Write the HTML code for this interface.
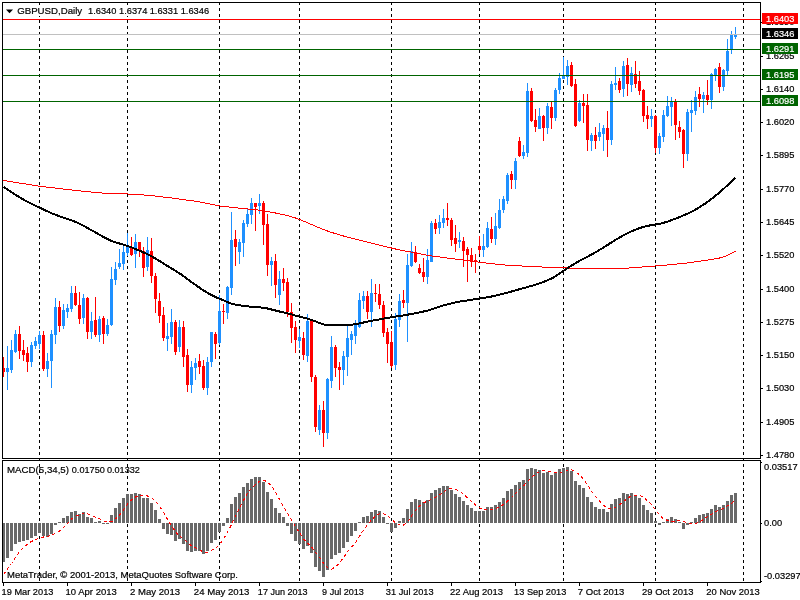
<!DOCTYPE html>
<html><head><meta charset="utf-8"><title>GBPUSD,Daily</title>
<style>
html,body{margin:0;padding:0;background:#fff;}
svg{display:block}
text{font-family:"Liberation Sans",sans-serif;font-size:9.6px;fill:#000;stroke:#000;stroke-width:0.2px}
.w{fill:#fff}
</style></head><body>
<svg width="800" height="600" viewBox="0 0 800 600">
<rect width="800" height="600" fill="#fff"/>
<g shape-rendering="crispEdges" fill="#000">
<line x1="39.5" y1="2" x2="39.5" y2="583" stroke="#000" stroke-width="1" stroke-dasharray="3,3"/>
<line x1="127.5" y1="2" x2="127.5" y2="583" stroke="#000" stroke-width="1" stroke-dasharray="3,3"/>
<line x1="219.5" y1="2" x2="219.5" y2="583" stroke="#000" stroke-width="1" stroke-dasharray="3,3"/>
<line x1="299.5" y1="2" x2="299.5" y2="583" stroke="#000" stroke-width="1" stroke-dasharray="3,3"/>
<line x1="391.5" y1="2" x2="391.5" y2="583" stroke="#000" stroke-width="1" stroke-dasharray="3,3"/>
<line x1="479.5" y1="2" x2="479.5" y2="583" stroke="#000" stroke-width="1" stroke-dasharray="3,3"/>
<line x1="563.5" y1="2" x2="563.5" y2="583" stroke="#000" stroke-width="1" stroke-dasharray="3,3"/>
<line x1="655.5" y1="2" x2="655.5" y2="583" stroke="#000" stroke-width="1" stroke-dasharray="3,3"/>
<line x1="743.5" y1="2" x2="743.5" y2="583" stroke="#000" stroke-width="1" stroke-dasharray="3,3"/>
</g>
<g shape-rendering="crispEdges">
<rect x="3" y="357" width="1" height="20" fill="#ff0000"/><rect x="3" y="368" width="2" height="4" fill="#ff0000"/>
<rect x="7" y="346" width="1" height="44" fill="#1e90ff"/><rect x="6" y="368" width="3" height="4" fill="#1e90ff"/>
<rect x="11" y="340" width="1" height="33" fill="#1e90ff"/><rect x="10" y="350" width="3" height="20" fill="#1e90ff"/>
<rect x="15" y="330" width="1" height="23" fill="#1e90ff"/><rect x="14" y="334" width="3" height="18" fill="#1e90ff"/>
<rect x="19" y="326" width="1" height="33" fill="#ff0000"/><rect x="18" y="334" width="3" height="17" fill="#ff0000"/>
<rect x="23" y="340" width="1" height="21" fill="#ff0000"/><rect x="22" y="350" width="3" height="5" fill="#ff0000"/>
<rect x="27" y="347" width="1" height="25" fill="#ff0000"/><rect x="26" y="353" width="3" height="9" fill="#ff0000"/>
<rect x="31" y="342" width="1" height="25" fill="#1e90ff"/><rect x="30" y="345" width="3" height="17" fill="#1e90ff"/>
<rect x="35" y="337" width="1" height="12" fill="#1e90ff"/><rect x="34" y="341" width="3" height="5" fill="#1e90ff"/>
<rect x="39" y="331" width="1" height="18" fill="#1e90ff"/><rect x="38" y="335" width="3" height="9" fill="#1e90ff"/>
<rect x="43" y="331" width="1" height="40" fill="#ff0000"/><rect x="42" y="335" width="3" height="34" fill="#ff0000"/>
<rect x="47" y="353" width="1" height="24" fill="#1e90ff"/><rect x="46" y="361" width="3" height="8" fill="#1e90ff"/>
<rect x="51" y="330" width="1" height="58" fill="#1e90ff"/><rect x="50" y="334" width="3" height="27" fill="#1e90ff"/>
<rect x="55" y="298" width="1" height="46" fill="#1e90ff"/><rect x="54" y="307" width="3" height="28" fill="#1e90ff"/>
<rect x="59" y="301" width="1" height="31" fill="#ff0000"/><rect x="58" y="307" width="3" height="19" fill="#ff0000"/>
<rect x="63" y="304" width="1" height="25" fill="#1e90ff"/><rect x="62" y="310" width="3" height="16" fill="#1e90ff"/>
<rect x="67" y="304" width="1" height="14" fill="#1e90ff"/><rect x="66" y="308" width="3" height="4" fill="#1e90ff"/>
<rect x="71" y="286" width="1" height="26" fill="#1e90ff"/><rect x="70" y="293" width="3" height="16" fill="#1e90ff"/>
<rect x="75" y="286" width="1" height="20" fill="#ff0000"/><rect x="74" y="293" width="3" height="12" fill="#ff0000"/>
<rect x="79" y="292" width="1" height="32" fill="#ff0000"/><rect x="78" y="305" width="3" height="14" fill="#ff0000"/>
<rect x="83" y="294" width="1" height="30" fill="#1e90ff"/><rect x="82" y="298" width="3" height="20" fill="#1e90ff"/>
<rect x="87" y="297" width="1" height="42" fill="#ff0000"/><rect x="86" y="298" width="3" height="34" fill="#ff0000"/>
<rect x="91" y="312" width="1" height="27" fill="#1e90ff"/><rect x="90" y="321" width="3" height="11" fill="#1e90ff"/>
<rect x="95" y="297" width="1" height="40" fill="#ff0000"/><rect x="94" y="320" width="3" height="15" fill="#ff0000"/>
<rect x="99" y="316" width="1" height="26" fill="#1e90ff"/><rect x="98" y="319" width="3" height="16" fill="#1e90ff"/>
<rect x="103" y="316" width="1" height="28" fill="#ff0000"/><rect x="102" y="318" width="3" height="16" fill="#ff0000"/>
<rect x="107" y="319" width="1" height="17" fill="#1e90ff"/><rect x="106" y="325" width="3" height="9" fill="#1e90ff"/>
<rect x="111" y="267" width="1" height="59" fill="#1e90ff"/><rect x="110" y="279" width="3" height="46" fill="#1e90ff"/>
<rect x="115" y="262" width="1" height="23" fill="#1e90ff"/><rect x="114" y="269" width="3" height="11" fill="#1e90ff"/>
<rect x="119" y="249" width="1" height="20" fill="#1e90ff"/><rect x="118" y="263" width="3" height="4" fill="#1e90ff"/>
<rect x="123" y="245" width="1" height="25" fill="#1e90ff"/><rect x="122" y="252" width="3" height="12" fill="#1e90ff"/>
<rect x="127" y="233" width="1" height="23" fill="#1e90ff"/><rect x="126" y="247" width="3" height="6" fill="#1e90ff"/>
<rect x="131" y="237" width="1" height="19" fill="#ff0000"/><rect x="130" y="247" width="3" height="8" fill="#ff0000"/>
<rect x="135" y="234" width="1" height="34" fill="#1e90ff"/><rect x="134" y="242" width="3" height="12" fill="#1e90ff"/>
<rect x="139" y="242" width="1" height="15" fill="#ff0000"/><rect x="138" y="242" width="3" height="9" fill="#ff0000"/>
<rect x="143" y="247" width="1" height="30" fill="#ff0000"/><rect x="142" y="251" width="3" height="17" fill="#ff0000"/>
<rect x="147" y="237" width="1" height="34" fill="#1e90ff"/><rect x="146" y="250" width="3" height="17" fill="#1e90ff"/>
<rect x="151" y="238" width="1" height="45" fill="#ff0000"/><rect x="150" y="251" width="3" height="25" fill="#ff0000"/>
<rect x="155" y="273" width="1" height="40" fill="#ff0000"/><rect x="154" y="276" width="3" height="23" fill="#ff0000"/>
<rect x="159" y="293" width="1" height="30" fill="#ff0000"/><rect x="158" y="301" width="3" height="15" fill="#ff0000"/>
<rect x="163" y="307" width="1" height="34" fill="#ff0000"/><rect x="162" y="315" width="3" height="23" fill="#ff0000"/>
<rect x="167" y="323" width="1" height="28" fill="#1e90ff"/><rect x="166" y="336" width="3" height="3" fill="#1e90ff"/>
<rect x="171" y="309" width="1" height="35" fill="#1e90ff"/><rect x="170" y="322" width="3" height="15" fill="#1e90ff"/>
<rect x="175" y="320" width="1" height="35" fill="#ff0000"/><rect x="174" y="322" width="3" height="30" fill="#ff0000"/>
<rect x="179" y="320" width="1" height="32" fill="#1e90ff"/><rect x="178" y="327" width="3" height="20" fill="#1e90ff"/>
<rect x="183" y="321" width="1" height="46" fill="#ff0000"/><rect x="182" y="327" width="3" height="30" fill="#ff0000"/>
<rect x="187" y="349" width="1" height="43" fill="#ff0000"/><rect x="186" y="355" width="3" height="30" fill="#ff0000"/>
<rect x="191" y="361" width="1" height="32" fill="#1e90ff"/><rect x="190" y="367" width="3" height="18" fill="#1e90ff"/>
<rect x="195" y="358" width="1" height="22" fill="#1e90ff"/><rect x="194" y="363" width="3" height="5" fill="#1e90ff"/>
<rect x="199" y="354" width="1" height="20" fill="#ff0000"/><rect x="198" y="361" width="3" height="6" fill="#ff0000"/>
<rect x="203" y="360" width="1" height="30" fill="#ff0000"/><rect x="202" y="366" width="3" height="22" fill="#ff0000"/>
<rect x="207" y="357" width="1" height="38" fill="#1e90ff"/><rect x="206" y="362" width="3" height="26" fill="#1e90ff"/>
<rect x="211" y="332" width="1" height="35" fill="#1e90ff"/><rect x="210" y="332" width="3" height="30" fill="#1e90ff"/>
<rect x="215" y="332" width="1" height="27" fill="#ff0000"/><rect x="214" y="334" width="3" height="10" fill="#ff0000"/>
<rect x="219" y="295" width="1" height="50" fill="#1e90ff"/><rect x="218" y="311" width="3" height="32" fill="#1e90ff"/>
<rect x="223" y="304" width="1" height="20" fill="#ff0000"/><rect x="222" y="311" width="3" height="1" fill="#ff0000"/>
<rect x="227" y="286" width="1" height="33" fill="#1e90ff"/><rect x="226" y="287" width="3" height="26" fill="#1e90ff"/>
<rect x="231" y="212" width="1" height="83" fill="#1e90ff"/><rect x="230" y="240" width="3" height="48" fill="#1e90ff"/>
<rect x="235" y="230" width="1" height="36" fill="#ff0000"/><rect x="234" y="239" width="3" height="8" fill="#ff0000"/>
<rect x="239" y="239" width="1" height="25" fill="#1e90ff"/><rect x="238" y="242" width="3" height="10" fill="#1e90ff"/>
<rect x="243" y="220" width="1" height="37" fill="#1e90ff"/><rect x="242" y="223" width="3" height="20" fill="#1e90ff"/>
<rect x="247" y="209" width="1" height="18" fill="#1e90ff"/><rect x="246" y="214" width="3" height="10" fill="#1e90ff"/>
<rect x="251" y="198" width="1" height="26" fill="#1e90ff"/><rect x="250" y="203" width="3" height="12" fill="#1e90ff"/>
<rect x="255" y="203" width="1" height="28" fill="#ff0000"/><rect x="254" y="203" width="3" height="4" fill="#ff0000"/>
<rect x="259" y="194" width="1" height="20" fill="#1e90ff"/><rect x="258" y="203" width="3" height="3" fill="#1e90ff"/>
<rect x="263" y="201" width="1" height="44" fill="#ff0000"/><rect x="262" y="203" width="3" height="22" fill="#ff0000"/>
<rect x="267" y="214" width="1" height="62" fill="#ff0000"/><rect x="266" y="224" width="3" height="41" fill="#ff0000"/>
<rect x="271" y="257" width="1" height="29" fill="#1e90ff"/><rect x="270" y="261" width="3" height="4" fill="#1e90ff"/>
<rect x="275" y="254" width="1" height="44" fill="#ff0000"/><rect x="274" y="261" width="3" height="24" fill="#ff0000"/>
<rect x="279" y="271" width="1" height="34" fill="#1e90ff"/><rect x="278" y="279" width="3" height="16" fill="#1e90ff"/>
<rect x="283" y="268" width="1" height="23" fill="#ff0000"/><rect x="282" y="279" width="3" height="4" fill="#ff0000"/>
<rect x="287" y="278" width="1" height="39" fill="#ff0000"/><rect x="286" y="282" width="3" height="30" fill="#ff0000"/>
<rect x="291" y="303" width="1" height="40" fill="#ff0000"/><rect x="290" y="312" width="3" height="16" fill="#ff0000"/>
<rect x="295" y="321" width="1" height="32" fill="#ff0000"/><rect x="294" y="327" width="3" height="13" fill="#ff0000"/>
<rect x="299" y="329" width="1" height="19" fill="#1e90ff"/><rect x="298" y="337" width="3" height="4" fill="#1e90ff"/>
<rect x="303" y="332" width="1" height="28" fill="#ff0000"/><rect x="302" y="338" width="3" height="17" fill="#ff0000"/>
<rect x="307" y="314" width="1" height="48" fill="#1e90ff"/><rect x="306" y="321" width="3" height="35" fill="#1e90ff"/>
<rect x="311" y="320" width="1" height="62" fill="#ff0000"/><rect x="310" y="321" width="3" height="56" fill="#ff0000"/>
<rect x="315" y="375" width="1" height="57" fill="#ff0000"/><rect x="314" y="377" width="3" height="50" fill="#ff0000"/>
<rect x="319" y="405" width="1" height="30" fill="#1e90ff"/><rect x="318" y="410" width="3" height="20" fill="#1e90ff"/>
<rect x="323" y="401" width="1" height="46" fill="#ff0000"/><rect x="322" y="410" width="3" height="23" fill="#ff0000"/>
<rect x="327" y="378" width="1" height="61" fill="#1e90ff"/><rect x="326" y="379" width="3" height="54" fill="#1e90ff"/>
<rect x="331" y="336" width="1" height="52" fill="#1e90ff"/><rect x="330" y="347" width="3" height="34" fill="#1e90ff"/>
<rect x="335" y="345" width="1" height="32" fill="#ff0000"/><rect x="334" y="347" width="3" height="21" fill="#ff0000"/>
<rect x="339" y="362" width="1" height="28" fill="#ff0000"/><rect x="338" y="367" width="3" height="3" fill="#ff0000"/>
<rect x="343" y="351" width="1" height="34" fill="#1e90ff"/><rect x="342" y="356" width="3" height="14" fill="#1e90ff"/>
<rect x="347" y="325" width="1" height="51" fill="#1e90ff"/><rect x="346" y="338" width="3" height="19" fill="#1e90ff"/>
<rect x="351" y="331" width="1" height="24" fill="#1e90ff"/><rect x="350" y="334" width="3" height="6" fill="#1e90ff"/>
<rect x="355" y="320" width="1" height="24" fill="#1e90ff"/><rect x="354" y="323" width="3" height="13" fill="#1e90ff"/>
<rect x="359" y="293" width="1" height="35" fill="#1e90ff"/><rect x="358" y="300" width="3" height="27" fill="#1e90ff"/>
<rect x="363" y="291" width="1" height="18" fill="#1e90ff"/><rect x="362" y="296" width="3" height="5" fill="#1e90ff"/>
<rect x="367" y="291" width="1" height="28" fill="#ff0000"/><rect x="366" y="296" width="3" height="16" fill="#ff0000"/>
<rect x="371" y="279" width="1" height="48" fill="#1e90ff"/><rect x="370" y="293" width="3" height="19" fill="#1e90ff"/>
<rect x="375" y="284" width="1" height="18" fill="#ff0000"/><rect x="374" y="293" width="3" height="1" fill="#ff0000"/>
<rect x="379" y="284" width="1" height="25" fill="#ff0000"/><rect x="378" y="294" width="3" height="11" fill="#ff0000"/>
<rect x="383" y="301" width="1" height="36" fill="#ff0000"/><rect x="382" y="305" width="3" height="28" fill="#ff0000"/>
<rect x="387" y="328" width="1" height="35" fill="#ff0000"/><rect x="386" y="332" width="3" height="12" fill="#ff0000"/>
<rect x="391" y="331" width="1" height="37" fill="#ff0000"/><rect x="390" y="342" width="3" height="24" fill="#ff0000"/>
<rect x="395" y="313" width="1" height="57" fill="#1e90ff"/><rect x="394" y="319" width="3" height="46" fill="#1e90ff"/>
<rect x="399" y="294" width="1" height="33" fill="#1e90ff"/><rect x="398" y="301" width="3" height="19" fill="#1e90ff"/>
<rect x="403" y="290" width="1" height="18" fill="#ff0000"/><rect x="402" y="300" width="3" height="3" fill="#ff0000"/>
<rect x="407" y="254" width="1" height="88" fill="#1e90ff"/><rect x="406" y="265" width="3" height="38" fill="#1e90ff"/>
<rect x="411" y="242" width="1" height="25" fill="#1e90ff"/><rect x="410" y="251" width="3" height="15" fill="#1e90ff"/>
<rect x="415" y="246" width="1" height="17" fill="#ff0000"/><rect x="414" y="252" width="3" height="10" fill="#ff0000"/>
<rect x="419" y="264" width="1" height="10" fill="#ff0000"/><rect x="418" y="268" width="3" height="5" fill="#ff0000"/>
<rect x="423" y="258" width="1" height="24" fill="#ff0000"/><rect x="422" y="272" width="3" height="5" fill="#ff0000"/>
<rect x="427" y="249" width="1" height="35" fill="#1e90ff"/><rect x="426" y="260" width="3" height="17" fill="#1e90ff"/>
<rect x="431" y="221" width="1" height="41" fill="#1e90ff"/><rect x="430" y="223" width="3" height="39" fill="#1e90ff"/>
<rect x="435" y="219" width="1" height="15" fill="#ff0000"/><rect x="434" y="223" width="3" height="6" fill="#ff0000"/>
<rect x="439" y="215" width="1" height="19" fill="#1e90ff"/><rect x="438" y="222" width="3" height="6" fill="#1e90ff"/>
<rect x="443" y="209" width="1" height="19" fill="#1e90ff"/><rect x="442" y="218" width="3" height="5" fill="#1e90ff"/>
<rect x="447" y="203" width="1" height="23" fill="#ff0000"/><rect x="446" y="218" width="3" height="2" fill="#ff0000"/>
<rect x="451" y="218" width="1" height="28" fill="#ff0000"/><rect x="450" y="220" width="3" height="20" fill="#ff0000"/>
<rect x="455" y="225" width="1" height="27" fill="#ff0000"/><rect x="454" y="238" width="3" height="6" fill="#ff0000"/>
<rect x="459" y="232" width="1" height="16" fill="#1e90ff"/><rect x="458" y="240" width="3" height="2" fill="#1e90ff"/>
<rect x="463" y="237" width="1" height="30" fill="#ff0000"/><rect x="462" y="241" width="3" height="10" fill="#ff0000"/>
<rect x="467" y="247" width="1" height="35" fill="#ff0000"/><rect x="466" y="249" width="3" height="6" fill="#ff0000"/>
<rect x="471" y="248" width="1" height="19" fill="#ff0000"/><rect x="470" y="255" width="3" height="7" fill="#ff0000"/>
<rect x="475" y="254" width="1" height="19" fill="#ff0000"/><rect x="474" y="260" width="3" height="2" fill="#ff0000"/>
<rect x="479" y="236" width="1" height="18" fill="#ff0000"/><rect x="478" y="246" width="3" height="4" fill="#ff0000"/>
<rect x="483" y="234" width="1" height="23" fill="#1e90ff"/><rect x="482" y="246" width="3" height="4" fill="#1e90ff"/>
<rect x="487" y="222" width="1" height="26" fill="#1e90ff"/><rect x="486" y="228" width="3" height="19" fill="#1e90ff"/>
<rect x="491" y="217" width="1" height="26" fill="#ff0000"/><rect x="490" y="229" width="3" height="10" fill="#ff0000"/>
<rect x="495" y="213" width="1" height="32" fill="#1e90ff"/><rect x="494" y="226" width="3" height="13" fill="#1e90ff"/>
<rect x="499" y="199" width="1" height="30" fill="#1e90ff"/><rect x="498" y="210" width="3" height="18" fill="#1e90ff"/>
<rect x="503" y="196" width="1" height="17" fill="#1e90ff"/><rect x="502" y="199" width="3" height="11" fill="#1e90ff"/>
<rect x="507" y="173" width="1" height="31" fill="#1e90ff"/><rect x="506" y="175" width="3" height="26" fill="#1e90ff"/>
<rect x="511" y="171" width="1" height="18" fill="#ff0000"/><rect x="510" y="174" width="3" height="6" fill="#ff0000"/>
<rect x="515" y="158" width="1" height="31" fill="#1e90ff"/><rect x="514" y="161" width="3" height="19" fill="#1e90ff"/>
<rect x="519" y="137" width="1" height="20" fill="#ff0000"/><rect x="518" y="141" width="3" height="15" fill="#ff0000"/>
<rect x="523" y="145" width="1" height="14" fill="#1e90ff"/><rect x="522" y="152" width="3" height="4" fill="#1e90ff"/>
<rect x="527" y="83" width="1" height="74" fill="#1e90ff"/><rect x="526" y="91" width="3" height="62" fill="#1e90ff"/>
<rect x="531" y="88" width="1" height="34" fill="#ff0000"/><rect x="530" y="91" width="3" height="30" fill="#ff0000"/>
<rect x="535" y="109" width="1" height="23" fill="#ff0000"/><rect x="534" y="120" width="3" height="7" fill="#ff0000"/>
<rect x="539" y="108" width="1" height="21" fill="#1e90ff"/><rect x="538" y="116" width="3" height="13" fill="#1e90ff"/>
<rect x="543" y="115" width="1" height="26" fill="#ff0000"/><rect x="542" y="116" width="3" height="12" fill="#ff0000"/>
<rect x="547" y="103" width="1" height="31" fill="#1e90ff"/><rect x="546" y="106" width="3" height="22" fill="#1e90ff"/>
<rect x="551" y="102" width="1" height="27" fill="#ff0000"/><rect x="550" y="107" width="3" height="11" fill="#ff0000"/>
<rect x="555" y="88" width="1" height="33" fill="#1e90ff"/><rect x="554" y="90" width="3" height="28" fill="#1e90ff"/>
<rect x="559" y="73" width="1" height="21" fill="#1e90ff"/><rect x="558" y="78" width="3" height="12" fill="#1e90ff"/>
<rect x="563" y="57" width="1" height="22" fill="#1e90ff"/><rect x="562" y="75" width="3" height="4" fill="#1e90ff"/>
<rect x="567" y="60" width="1" height="25" fill="#1e90ff"/><rect x="566" y="66" width="3" height="11" fill="#1e90ff"/>
<rect x="571" y="62" width="1" height="25" fill="#ff0000"/><rect x="570" y="65" width="3" height="21" fill="#ff0000"/>
<rect x="575" y="79" width="1" height="48" fill="#ff0000"/><rect x="574" y="84" width="3" height="42" fill="#ff0000"/>
<rect x="579" y="100" width="1" height="22" fill="#1e90ff"/><rect x="578" y="103" width="3" height="18" fill="#1e90ff"/>
<rect x="583" y="94" width="1" height="29" fill="#ff0000"/><rect x="582" y="103" width="3" height="3" fill="#ff0000"/>
<rect x="587" y="94" width="1" height="57" fill="#ff0000"/><rect x="586" y="105" width="3" height="35" fill="#ff0000"/>
<rect x="591" y="133" width="1" height="18" fill="#1e90ff"/><rect x="590" y="135" width="3" height="6" fill="#1e90ff"/>
<rect x="595" y="127" width="1" height="22" fill="#ff0000"/><rect x="594" y="135" width="3" height="6" fill="#ff0000"/>
<rect x="599" y="123" width="1" height="18" fill="#1e90ff"/><rect x="598" y="132" width="3" height="5" fill="#1e90ff"/>
<rect x="603" y="125" width="1" height="26" fill="#1e90ff"/><rect x="602" y="128" width="3" height="6" fill="#1e90ff"/>
<rect x="607" y="111" width="1" height="46" fill="#ff0000"/><rect x="606" y="128" width="3" height="12" fill="#ff0000"/>
<rect x="611" y="81" width="1" height="64" fill="#1e90ff"/><rect x="610" y="84" width="3" height="56" fill="#1e90ff"/>
<rect x="615" y="67" width="1" height="23" fill="#1e90ff"/><rect x="614" y="83" width="3" height="2" fill="#1e90ff"/>
<rect x="619" y="78" width="1" height="15" fill="#ff0000"/><rect x="618" y="81" width="3" height="9" fill="#ff0000"/>
<rect x="623" y="61" width="1" height="36" fill="#1e90ff"/><rect x="622" y="66" width="3" height="23" fill="#1e90ff"/>
<rect x="627" y="58" width="1" height="38" fill="#ff0000"/><rect x="626" y="65" width="3" height="19" fill="#ff0000"/>
<rect x="631" y="67" width="1" height="25" fill="#1e90ff"/><rect x="630" y="73" width="3" height="12" fill="#1e90ff"/>
<rect x="635" y="61" width="1" height="27" fill="#ff0000"/><rect x="634" y="74" width="3" height="10" fill="#ff0000"/>
<rect x="639" y="71" width="1" height="24" fill="#ff0000"/><rect x="638" y="81" width="3" height="10" fill="#ff0000"/>
<rect x="643" y="89" width="1" height="33" fill="#ff0000"/><rect x="642" y="90" width="3" height="26" fill="#ff0000"/>
<rect x="647" y="106" width="1" height="23" fill="#ff0000"/><rect x="646" y="115" width="3" height="4" fill="#ff0000"/>
<rect x="651" y="109" width="1" height="18" fill="#1e90ff"/><rect x="650" y="116" width="3" height="3" fill="#1e90ff"/>
<rect x="655" y="115" width="1" height="38" fill="#ff0000"/><rect x="654" y="116" width="3" height="32" fill="#ff0000"/>
<rect x="659" y="133" width="1" height="21" fill="#1e90ff"/><rect x="658" y="136" width="3" height="12" fill="#1e90ff"/>
<rect x="663" y="110" width="1" height="32" fill="#1e90ff"/><rect x="662" y="115" width="3" height="22" fill="#1e90ff"/>
<rect x="667" y="96" width="1" height="21" fill="#1e90ff"/><rect x="666" y="106" width="3" height="10" fill="#1e90ff"/>
<rect x="671" y="97" width="1" height="29" fill="#1e90ff"/><rect x="670" y="102" width="3" height="5" fill="#1e90ff"/>
<rect x="675" y="99" width="1" height="41" fill="#ff0000"/><rect x="674" y="102" width="3" height="23" fill="#ff0000"/>
<rect x="679" y="121" width="1" height="17" fill="#ff0000"/><rect x="678" y="127" width="3" height="5" fill="#ff0000"/>
<rect x="683" y="129" width="1" height="39" fill="#ff0000"/><rect x="682" y="130" width="3" height="24" fill="#ff0000"/>
<rect x="687" y="109" width="1" height="52" fill="#1e90ff"/><rect x="686" y="112" width="3" height="42" fill="#1e90ff"/>
<rect x="691" y="100" width="1" height="32" fill="#1e90ff"/><rect x="690" y="110" width="3" height="3" fill="#1e90ff"/>
<rect x="695" y="91" width="1" height="24" fill="#1e90ff"/><rect x="694" y="97" width="3" height="14" fill="#1e90ff"/>
<rect x="699" y="87" width="1" height="20" fill="#ff0000"/><rect x="698" y="94" width="3" height="5" fill="#ff0000"/>
<rect x="703" y="92" width="1" height="21" fill="#1e90ff"/><rect x="702" y="95" width="3" height="4" fill="#1e90ff"/>
<rect x="707" y="80" width="1" height="25" fill="#ff0000"/><rect x="706" y="95" width="3" height="5" fill="#ff0000"/>
<rect x="711" y="73" width="1" height="36" fill="#1e90ff"/><rect x="710" y="74" width="3" height="26" fill="#1e90ff"/>
<rect x="715" y="68" width="1" height="13" fill="#1e90ff"/><rect x="714" y="69" width="3" height="7" fill="#1e90ff"/>
<rect x="719" y="63" width="1" height="30" fill="#ff0000"/><rect x="718" y="67" width="3" height="20" fill="#ff0000"/>
<rect x="723" y="69" width="1" height="22" fill="#1e90ff"/><rect x="722" y="70" width="3" height="17" fill="#1e90ff"/>
<rect x="727" y="39" width="1" height="36" fill="#1e90ff"/><rect x="726" y="51" width="3" height="20" fill="#1e90ff"/>
<rect x="731" y="31" width="1" height="23" fill="#1e90ff"/><rect x="730" y="35" width="3" height="15" fill="#1e90ff"/>
<rect x="735" y="27" width="1" height="12" fill="#1e90ff"/><rect x="734" y="35" width="3" height="2" fill="#1e90ff"/>
</g>
<g shape-rendering="crispEdges">
<rect x="3" y="34" width="757" height="1" fill="#c0c0c0"/>
</g>
<polyline fill="none" stroke="#ff0000" stroke-width="1" shape-rendering="crispEdges" points="3.5,180.5 7.5,181.1 11.5,181.8 15.5,182.4 19.5,183.1 23.5,183.7 27.5,184.3 31.5,185.0 35.5,185.6 39.5,186.2 43.5,186.7 47.5,187.2 51.5,187.7 55.5,188.1 59.5,188.6 63.5,189.1 67.5,189.6 71.5,190.0 75.5,190.5 79.5,190.9 83.5,191.3 87.5,191.7 91.5,192.1 95.5,192.5 99.5,192.8 103.5,193.1 107.5,193.3 111.5,193.4 115.5,193.6 119.5,193.7 123.5,193.9 127.5,194.0 131.5,194.3 135.5,194.5 139.5,194.8 143.5,195.0 147.5,195.3 151.5,195.7 155.5,196.1 159.5,196.6 163.5,197.1 167.5,197.5 171.5,198.0 175.5,198.5 179.5,199.1 183.5,199.6 187.5,200.2 191.5,200.7 195.5,201.3 199.5,201.9 203.5,202.7 207.5,203.5 211.5,204.3 215.5,205.1 219.5,205.9 223.5,206.4 227.5,206.9 231.5,207.3 235.5,207.8 239.5,208.2 243.5,208.6 247.5,209.0 251.5,209.4 255.5,209.8 259.5,210.2 263.5,210.8 267.5,211.5 271.5,212.2 275.5,213.0 279.5,213.8 283.5,214.7 287.5,215.7 291.5,216.8 295.5,218.0 299.5,219.4 303.5,221.1 307.5,222.8 311.5,224.5 315.5,226.3 319.5,227.9 323.5,229.6 327.5,231.0 331.5,232.4 335.5,233.6 339.5,234.8 343.5,236.0 347.5,237.1 351.5,238.2 355.5,239.2 359.5,240.2 363.5,241.2 367.5,242.2 371.5,243.2 375.5,244.2 379.5,245.2 383.5,246.1 387.5,247.1 391.5,248.0 395.5,249.0 399.5,249.9 403.5,250.7 407.5,251.4 411.5,252.1 415.5,252.9 419.5,253.7 423.5,254.5 427.5,255.2 431.5,255.9 435.5,256.4 439.5,257.0 443.5,257.6 447.5,258.1 451.5,258.6 455.5,259.1 459.5,259.6 463.5,260.1 467.5,260.7 471.5,261.2 475.5,261.7 479.5,262.2 483.5,262.7 487.5,263.2 491.5,263.7 495.5,264.1 499.5,264.6 503.5,264.9 507.5,265.2 511.5,265.4 515.5,265.6 519.5,265.9 523.5,266.1 527.5,266.3 531.5,266.5 535.5,266.8 539.5,266.9 543.5,267.1 547.5,267.3 551.5,267.5 555.5,267.7 559.5,267.8 563.5,267.9 567.5,268.0 571.5,268.0 575.5,268.0 579.5,268.0 583.5,268.1 587.5,268.3 591.5,268.4 595.5,268.5 599.5,268.6 603.5,268.7 607.5,268.7 611.5,268.6 615.5,268.5 619.5,268.4 623.5,268.3 627.5,268.1 631.5,267.9 635.5,267.6 639.5,267.3 643.5,266.9 647.5,266.6 651.5,266.3 655.5,266.0 659.5,265.7 663.5,265.3 667.5,265.0 671.5,264.6 675.5,264.2 679.5,263.8 683.5,263.4 687.5,262.9 691.5,262.4 695.5,261.8 699.5,261.3 703.5,260.7 707.5,260.1 711.5,259.5 715.5,258.8 719.5,258.0 723.5,256.9 727.5,255.3 731.5,253.3 735.5,251.0"/>
<polyline fill="none" stroke="#000" stroke-width="2" stroke-linejoin="round" shape-rendering="crispEdges" points="3.5,186.8 7.5,189.4 11.5,192.1 15.5,194.7 19.5,197.2 23.5,199.6 27.5,201.8 31.5,203.8 35.5,205.7 39.5,207.6 43.5,209.5 47.5,211.4 51.5,213.2 55.5,214.8 59.5,216.3 63.5,217.7 67.5,219.0 71.5,220.3 75.5,221.9 79.5,223.7 83.5,225.8 87.5,228.0 91.5,230.2 95.5,232.5 99.5,234.8 103.5,237.0 107.5,239.1 111.5,240.9 115.5,242.3 119.5,243.5 123.5,244.6 127.5,245.9 131.5,247.4 135.5,249.0 139.5,250.7 143.5,252.5 147.5,254.3 151.5,256.3 155.5,258.5 159.5,261.0 163.5,263.5 167.5,266.0 171.5,268.4 175.5,270.8 179.5,273.3 183.5,276.1 187.5,279.1 191.5,282.1 195.5,284.9 199.5,287.7 203.5,290.4 207.5,292.9 211.5,295.1 215.5,297.0 219.5,298.7 223.5,300.4 227.5,302.1 231.5,303.6 235.5,304.6 239.5,305.3 243.5,305.9 247.5,306.4 251.5,306.8 255.5,307.0 259.5,307.3 263.5,307.8 267.5,308.5 271.5,309.5 275.5,310.5 279.5,311.5 283.5,312.4 287.5,313.4 291.5,314.4 295.5,315.6 299.5,316.7 303.5,317.7 307.5,318.7 311.5,319.9 315.5,321.4 319.5,323.1 323.5,324.4 327.5,324.9 331.5,325.0 335.5,325.0 339.5,325.0 343.5,325.0 347.5,325.0 351.5,324.7 355.5,324.2 359.5,323.4 363.5,322.5 367.5,321.6 371.5,320.8 375.5,320.1 379.5,319.4 383.5,318.6 387.5,317.9 391.5,317.3 395.5,316.6 399.5,316.0 403.5,315.4 407.5,314.7 411.5,314.0 415.5,313.2 419.5,312.4 423.5,311.5 427.5,310.6 431.5,309.4 435.5,308.0 439.5,306.7 443.5,305.4 447.5,304.3 451.5,303.3 455.5,302.4 459.5,301.6 463.5,301.0 467.5,300.4 471.5,299.8 475.5,299.1 479.5,298.5 483.5,297.9 487.5,297.2 491.5,296.5 495.5,295.6 499.5,294.7 503.5,293.6 507.5,292.6 511.5,291.5 515.5,290.4 519.5,289.2 523.5,288.1 527.5,287.0 531.5,285.9 535.5,284.7 539.5,283.4 543.5,281.9 547.5,280.3 551.5,278.5 555.5,276.3 559.5,273.6 563.5,270.8 567.5,268.1 571.5,265.6 575.5,263.2 579.5,260.9 583.5,258.8 587.5,256.7 591.5,254.5 595.5,252.3 599.5,249.9 603.5,247.5 607.5,245.0 611.5,242.4 615.5,239.9 619.5,237.5 623.5,235.3 627.5,233.3 631.5,231.4 635.5,229.7 639.5,228.1 643.5,226.9 647.5,225.9 651.5,225.1 655.5,224.5 659.5,223.8 663.5,222.8 667.5,221.6 671.5,220.1 675.5,218.6 679.5,217.1 683.5,215.4 687.5,213.7 691.5,211.7 695.5,209.6 699.5,207.2 703.5,204.7 707.5,201.9 711.5,199.0 715.5,195.8 719.5,192.5 723.5,188.9 727.5,185.2 731.5,181.4 735.5,177.5"/>
<g shape-rendering="crispEdges">
<rect x="3" y="19" width="757" height="1" fill="#ff0000"/>
<rect x="3" y="49" width="757" height="1" fill="#006400"/>
<rect x="3" y="75" width="757" height="1" fill="#006400"/>
<rect x="3" y="101" width="757" height="1" fill="#006400"/>
<rect x="2.5" y="2.5" width="758" height="456" fill="none" stroke="#000" stroke-width="1"/>
<rect x="2.5" y="460.5" width="758" height="122" fill="none" stroke="#000" stroke-width="1"/>
</g>
<rect x="4" y="5" width="206" height="11" class="w"/>
<path d="M6 9.5h7l-3.5 3.7z" fill="#000"/>
<text x="17.2" y="13.8" textLength="65.0" lengthAdjust="spacingAndGlyphs">GBPUSD,Daily</text>
<text x="88" y="13.8" textLength="28.4" lengthAdjust="spacingAndGlyphs">1.6340</text>
<text x="119" y="13.8" textLength="28.4" lengthAdjust="spacingAndGlyphs">1.6374</text>
<text x="149.7" y="13.8" textLength="28.4" lengthAdjust="spacingAndGlyphs">1.6331</text>
<text x="180.7" y="13.8" textLength="28.4" lengthAdjust="spacingAndGlyphs">1.6346</text>
<g shape-rendering="crispEdges">
<rect x="761" y="22" width="2" height="1" fill="#000"/>
<rect x="761" y="56" width="2" height="1" fill="#000"/>
<rect x="761" y="89" width="2" height="1" fill="#000"/>
<rect x="761" y="122" width="2" height="1" fill="#000"/>
<rect x="761" y="155" width="2" height="1" fill="#000"/>
<rect x="761" y="189" width="2" height="1" fill="#000"/>
<rect x="761" y="222" width="2" height="1" fill="#000"/>
<rect x="761" y="255" width="2" height="1" fill="#000"/>
<rect x="761" y="289" width="2" height="1" fill="#000"/>
<rect x="761" y="322" width="2" height="1" fill="#000"/>
<rect x="761" y="355" width="2" height="1" fill="#000"/>
<rect x="761" y="388" width="2" height="1" fill="#000"/>
<rect x="761" y="422" width="2" height="1" fill="#000"/>
<rect x="761" y="455" width="2" height="1" fill="#000"/>
</g>
<text x="766" y="25.2" textLength="28.4" lengthAdjust="spacingAndGlyphs">1.6390</text>
<text x="766" y="59.2" textLength="28.4" lengthAdjust="spacingAndGlyphs">1.6265</text>
<text x="766" y="92.2" textLength="28.4" lengthAdjust="spacingAndGlyphs">1.6140</text>
<text x="766" y="125.2" textLength="28.4" lengthAdjust="spacingAndGlyphs">1.6020</text>
<text x="766" y="158.2" textLength="28.4" lengthAdjust="spacingAndGlyphs">1.5895</text>
<text x="766" y="192.2" textLength="28.4" lengthAdjust="spacingAndGlyphs">1.5770</text>
<text x="766" y="225.2" textLength="28.4" lengthAdjust="spacingAndGlyphs">1.5645</text>
<text x="766" y="258.2" textLength="28.4" lengthAdjust="spacingAndGlyphs">1.5520</text>
<text x="766" y="292.2" textLength="28.4" lengthAdjust="spacingAndGlyphs">1.5400</text>
<text x="766" y="325.2" textLength="28.4" lengthAdjust="spacingAndGlyphs">1.5275</text>
<text x="766" y="358.2" textLength="28.4" lengthAdjust="spacingAndGlyphs">1.5150</text>
<text x="766" y="391.2" textLength="28.4" lengthAdjust="spacingAndGlyphs">1.5030</text>
<text x="766" y="425.2" textLength="28.4" lengthAdjust="spacingAndGlyphs">1.4905</text>
<text x="766" y="458.2" textLength="28.4" lengthAdjust="spacingAndGlyphs">1.4780</text>
<rect x="762" y="13" width="36" height="11" fill="#ff0000" shape-rendering="crispEdges"/><text x="766" y="22.2" textLength="28.4" lengthAdjust="spacingAndGlyphs" style="fill:#fff;stroke:#fff">1.6403</text>
<rect x="762" y="28" width="36" height="11" fill="#000" shape-rendering="crispEdges"/><text x="766" y="37.2" textLength="28.4" lengthAdjust="spacingAndGlyphs" style="fill:#fff;stroke:#fff">1.6346</text>
<rect x="762" y="43" width="36" height="11" fill="#006400" shape-rendering="crispEdges"/><text x="766" y="52.2" textLength="28.4" lengthAdjust="spacingAndGlyphs" style="fill:#fff;stroke:#fff">1.6291</text>
<rect x="762" y="69" width="36" height="11" fill="#006400" shape-rendering="crispEdges"/><text x="766" y="78.2" textLength="28.4" lengthAdjust="spacingAndGlyphs" style="fill:#fff;stroke:#fff">1.6195</text>
<rect x="762" y="95" width="36" height="11" fill="#006400" shape-rendering="crispEdges"/><text x="766" y="104.2" textLength="28.4" lengthAdjust="spacingAndGlyphs" style="fill:#fff;stroke:#fff">1.6098</text>
<g shape-rendering="crispEdges" fill="#696969">
<rect x="3" y="523" width="2" height="39"/><rect x="6" y="523" width="3" height="35"/><rect x="10" y="523" width="3" height="28"/><rect x="14" y="523" width="3" height="21"/><rect x="18" y="523" width="3" height="19"/><rect x="22" y="523" width="3" height="18"/><rect x="26" y="523" width="3" height="17"/><rect x="30" y="523" width="3" height="15"/><rect x="34" y="523" width="3" height="13"/><rect x="38" y="523" width="3" height="10"/><rect x="42" y="523" width="3" height="13"/><rect x="46" y="523" width="3" height="14"/><rect x="50" y="523" width="3" height="11"/><rect x="54" y="523" width="3" height="2"/><rect x="58" y="522" width="3" height="1"/><rect x="62" y="518" width="3" height="5"/><rect x="66" y="516" width="3" height="7"/><rect x="70" y="512" width="3" height="11"/><rect x="74" y="511" width="3" height="12"/><rect x="78" y="514" width="3" height="9"/><rect x="82" y="512" width="3" height="11"/><rect x="86" y="517" width="3" height="6"/><rect x="90" y="518" width="3" height="5"/><rect x="94" y="522" width="3" height="1"/><rect x="98" y="521" width="3" height="2"/><rect x="102" y="523" width="3" height="1"/><rect x="106" y="523" width="3" height="1"/><rect x="110" y="515" width="3" height="8"/><rect x="114" y="508" width="3" height="15"/><rect x="118" y="503" width="3" height="20"/><rect x="122" y="498" width="3" height="25"/><rect x="126" y="494" width="3" height="29"/><rect x="130" y="494" width="3" height="29"/><rect x="134" y="493" width="3" height="30"/><rect x="138" y="494" width="3" height="29"/><rect x="142" y="498" width="3" height="25"/><rect x="146" y="498" width="3" height="25"/><rect x="150" y="503" width="3" height="20"/><rect x="154" y="510" width="3" height="13"/><rect x="158" y="519" width="3" height="4"/><rect x="162" y="523" width="3" height="6"/><rect x="166" y="523" width="3" height="11"/><rect x="170" y="523" width="3" height="12"/><rect x="174" y="523" width="3" height="18"/><rect x="178" y="523" width="3" height="16"/><rect x="182" y="523" width="3" height="21"/><rect x="186" y="523" width="3" height="28"/><rect x="190" y="523" width="3" height="29"/><rect x="194" y="523" width="3" height="28"/><rect x="198" y="523" width="3" height="28"/><rect x="202" y="523" width="3" height="31"/><rect x="206" y="523" width="3" height="28"/><rect x="210" y="523" width="3" height="20"/><rect x="214" y="523" width="3" height="17"/><rect x="218" y="523" width="3" height="9"/><rect x="222" y="523" width="3" height="3"/><rect x="226" y="518" width="3" height="5"/><rect x="230" y="504" width="3" height="19"/><rect x="234" y="497" width="3" height="26"/><rect x="238" y="493" width="3" height="30"/><rect x="242" y="487" width="3" height="36"/><rect x="246" y="483" width="3" height="40"/><rect x="250" y="479" width="3" height="44"/><rect x="254" y="477" width="3" height="46"/><rect x="258" y="477" width="3" height="46"/><rect x="262" y="482" width="3" height="41"/><rect x="266" y="492" width="3" height="31"/><rect x="270" y="499" width="3" height="24"/><rect x="274" y="508" width="3" height="15"/><rect x="278" y="513" width="3" height="10"/><rect x="282" y="517" width="3" height="6"/><rect x="286" y="523" width="3" height="3"/><rect x="290" y="523" width="3" height="11"/><rect x="294" y="523" width="3" height="18"/><rect x="298" y="523" width="3" height="21"/><rect x="302" y="523" width="3" height="26"/><rect x="306" y="523" width="3" height="23"/><rect x="310" y="523" width="3" height="30"/><rect x="314" y="523" width="3" height="44"/><rect x="318" y="523" width="3" height="48"/><rect x="322" y="523" width="3" height="54"/><rect x="326" y="523" width="3" height="47"/><rect x="330" y="523" width="3" height="36"/><rect x="334" y="523" width="3" height="32"/><rect x="338" y="523" width="3" height="30"/><rect x="342" y="523" width="3" height="25"/><rect x="346" y="523" width="3" height="19"/><rect x="350" y="523" width="3" height="13"/><rect x="354" y="523" width="3" height="8"/><rect x="358" y="522" width="3" height="1"/><rect x="362" y="517" width="3" height="6"/><rect x="366" y="516" width="3" height="7"/><rect x="370" y="512" width="3" height="11"/><rect x="374" y="510" width="3" height="13"/><rect x="378" y="511" width="3" height="12"/><rect x="382" y="517" width="3" height="6"/><rect x="386" y="523" width="3" height="1"/><rect x="390" y="523" width="3" height="9"/><rect x="394" y="523" width="3" height="5"/><rect x="398" y="521" width="3" height="2"/><rect x="402" y="518" width="3" height="5"/><rect x="406" y="509" width="3" height="14"/><rect x="410" y="502" width="3" height="21"/><rect x="414" y="499" width="3" height="24"/><rect x="418" y="500" width="3" height="23"/><rect x="422" y="502" width="3" height="21"/><rect x="426" y="500" width="3" height="23"/><rect x="430" y="493" width="3" height="30"/><rect x="434" y="490" width="3" height="33"/><rect x="438" y="488" width="3" height="35"/><rect x="442" y="486" width="3" height="37"/><rect x="446" y="486" width="3" height="37"/><rect x="450" y="490" width="3" height="33"/><rect x="454" y="494" width="3" height="29"/><rect x="458" y="497" width="3" height="26"/><rect x="462" y="501" width="3" height="22"/><rect x="466" y="505" width="3" height="18"/><rect x="470" y="508" width="3" height="15"/><rect x="474" y="511" width="3" height="12"/><rect x="478" y="511" width="3" height="12"/><rect x="482" y="511" width="3" height="12"/><rect x="486" y="507" width="3" height="16"/><rect x="490" y="507" width="3" height="16"/><rect x="494" y="505" width="3" height="18"/><rect x="498" y="502" width="3" height="21"/><rect x="502" y="498" width="3" height="25"/><rect x="506" y="491" width="3" height="32"/><rect x="510" y="489" width="3" height="34"/><rect x="514" y="485" width="3" height="38"/><rect x="518" y="482" width="3" height="41"/><rect x="522" y="480" width="3" height="43"/><rect x="526" y="469" width="3" height="54"/><rect x="530" y="468" width="3" height="55"/><rect x="534" y="469" width="3" height="54"/><rect x="538" y="470" width="3" height="53"/><rect x="542" y="473" width="3" height="50"/><rect x="546" y="472" width="3" height="51"/><rect x="550" y="475" width="3" height="48"/><rect x="554" y="472" width="3" height="51"/><rect x="558" y="469" width="3" height="54"/><rect x="562" y="468" width="3" height="55"/><rect x="566" y="467" width="3" height="56"/><rect x="570" y="471" width="3" height="52"/><rect x="574" y="481" width="3" height="42"/><rect x="578" y="485" width="3" height="38"/><rect x="582" y="488" width="3" height="35"/><rect x="586" y="497" width="3" height="26"/><rect x="590" y="502" width="3" height="21"/><rect x="594" y="507" width="3" height="16"/><rect x="598" y="509" width="3" height="14"/><rect x="602" y="509" width="3" height="14"/><rect x="606" y="512" width="3" height="11"/><rect x="610" y="504" width="3" height="19"/><rect x="614" y="499" width="3" height="24"/><rect x="618" y="498" width="3" height="25"/><rect x="622" y="493" width="3" height="30"/><rect x="626" y="494" width="3" height="29"/><rect x="630" y="493" width="3" height="30"/><rect x="634" y="495" width="3" height="28"/><rect x="638" y="498" width="3" height="25"/><rect x="642" y="505" width="3" height="18"/><rect x="646" y="510" width="3" height="13"/><rect x="650" y="513" width="3" height="10"/><rect x="654" y="521" width="3" height="2"/><rect x="658" y="523" width="3" height="2"/><rect x="662" y="522" width="3" height="1"/><rect x="666" y="519" width="3" height="4"/><rect x="670" y="517" width="3" height="6"/><rect x="674" y="519" width="3" height="4"/><rect x="678" y="522" width="3" height="1"/><rect x="682" y="523" width="3" height="6"/><rect x="686" y="523" width="3" height="2"/><rect x="690" y="522" width="3" height="1"/><rect x="694" y="518" width="3" height="5"/><rect x="698" y="515" width="3" height="8"/><rect x="702" y="514" width="3" height="9"/><rect x="706" y="513" width="3" height="10"/><rect x="710" y="509" width="3" height="14"/><rect x="714" y="505" width="3" height="18"/><rect x="718" y="507" width="3" height="16"/><rect x="722" y="505" width="3" height="18"/><rect x="726" y="501" width="3" height="22"/><rect x="730" y="495" width="3" height="28"/><rect x="734" y="493" width="3" height="30"/>
</g>
<polyline fill="none" stroke="#ff0000" stroke-width="1" stroke-dasharray="3,3" shape-rendering="crispEdges" points="3.5,574.5 7.5,569.0 11.5,563.5 15.5,557.5 19.5,551.8 23.5,547.7 27.5,544.1 31.5,541.4 35.5,539.8 39.5,538.0 43.5,537.0 47.5,536.4 51.5,535.5 55.5,533.4 59.5,531.1 63.5,527.6 67.5,523.4 71.5,519.1 75.5,516.3 79.5,514.9 83.5,513.6 87.5,513.8 91.5,515.1 95.5,517.2 99.5,518.5 103.5,520.9 107.5,522.3 111.5,521.6 115.5,518.9 119.5,515.3 123.5,510.1 127.5,504.2 131.5,500.0 135.5,497.0 139.5,495.3 143.5,495.3 147.5,496.0 151.5,497.8 155.5,501.2 159.5,506.1 163.5,512.3 167.5,519.4 171.5,525.8 175.5,531.9 179.5,535.9 183.5,538.9 187.5,542.3 191.5,545.7 195.5,547.7 199.5,550.1 203.5,552.0 207.5,552.1 211.5,550.3 215.5,548.2 219.5,544.5 223.5,539.0 227.5,532.3 231.5,524.5 235.5,515.9 239.5,508.1 243.5,500.3 247.5,493.3 251.5,488.3 255.5,484.3 259.5,481.1 263.5,480.1 267.5,481.9 271.5,485.9 275.5,492.1 279.5,499.3 283.5,506.3 287.5,513.1 291.5,520.1 295.5,526.6 299.5,532.8 303.5,539.1 307.5,543.1 311.5,546.9 315.5,552.1 319.5,557.5 323.5,563.1 327.5,567.9 331.5,569.1 335.5,566.8 339.5,563.2 343.5,557.5 347.5,551.9 351.5,547.3 355.5,542.5 359.5,536.2 363.5,530.0 367.5,524.8 371.5,520.0 375.5,515.8 379.5,513.7 383.5,513.7 387.5,515.3 391.5,519.3 395.5,522.9 399.5,524.9 403.5,525.1 407.5,522.1 411.5,516.1 415.5,510.3 419.5,506.1 423.5,502.9 427.5,501.1 431.5,499.3 435.5,497.5 439.5,495.1 443.5,491.9 447.5,489.1 451.5,488.5 455.5,489.3 459.5,491.1 463.5,494.1 467.5,497.9 471.5,501.5 475.5,504.9 479.5,507.7 483.5,509.7 487.5,510.1 491.5,509.9 495.5,508.7 499.5,506.9 503.5,504.3 507.5,501.1 511.5,497.5 515.5,493.5 519.5,489.5 523.5,485.9 527.5,481.5 531.5,477.3 535.5,474.1 539.5,471.7 543.5,470.3 547.5,470.9 551.5,472.3 555.5,472.9 559.5,472.7 563.5,471.7 567.5,470.7 571.5,469.9 575.5,471.7 579.5,474.9 583.5,478.9 587.5,484.9 591.5,491.1 595.5,496.3 599.5,501.1 603.5,505.3 607.5,508.3 611.5,508.7 615.5,507.1 619.5,504.9 623.5,501.7 627.5,498.1 631.5,495.9 635.5,495.1 639.5,495.1 643.5,497.5 647.5,500.7 651.5,504.7 655.5,509.9 659.5,515.3 663.5,518.7 667.5,520.5 671.5,521.3 675.5,520.9 679.5,520.2 683.5,521.6 687.5,522.8 691.5,523.8 695.5,523.6 699.5,522.3 703.5,519.3 707.5,516.9 711.5,514.3 715.5,511.7 719.5,510.1 723.5,508.3 727.5,505.9 731.5,503.1 735.5,500.7"/>
<text x="7" y="472.8" textLength="62.0" lengthAdjust="spacingAndGlyphs">MACD(5,34,5)</text>
<text x="71.8" y="472.8" textLength="33.0" lengthAdjust="spacingAndGlyphs">0.01750</text>
<text x="106.9" y="472.8" textLength="33.0" lengthAdjust="spacingAndGlyphs">0.01332</text>
<text x="7" y="577.5" textLength="231.0" lengthAdjust="spacingAndGlyphs">MetaTrader, © 2001-2013, MetaQuotes Software Corp.</text>
<g shape-rendering="crispEdges">
<rect x="761" y="462" width="1" height="1" fill="#000"/>
<rect x="761" y="523" width="1" height="1" fill="#000"/>
<rect x="761" y="581" width="1" height="1" fill="#000"/>
</g>
<text x="764" y="470.1" textLength="33.6" lengthAdjust="spacingAndGlyphs">0.03517</text>
<text x="764" y="526.1" textLength="18.1" lengthAdjust="spacingAndGlyphs">0.00</text>
<text x="764" y="579.1" textLength="36.7" lengthAdjust="spacingAndGlyphs">-0.03297</text>
<g shape-rendering="crispEdges">
<rect x="3" y="583" width="1" height="3" fill="#000"/>
<rect x="67" y="583" width="1" height="3" fill="#000"/>
<rect x="131" y="583" width="1" height="3" fill="#000"/>
<rect x="195" y="583" width="1" height="3" fill="#000"/>
<rect x="259" y="583" width="1" height="3" fill="#000"/>
<rect x="323" y="583" width="1" height="3" fill="#000"/>
<rect x="387" y="583" width="1" height="3" fill="#000"/>
<rect x="451" y="583" width="1" height="3" fill="#000"/>
<rect x="515" y="583" width="1" height="3" fill="#000"/>
<rect x="579" y="583" width="1" height="3" fill="#000"/>
<rect x="643" y="583" width="1" height="3" fill="#000"/>
<rect x="707" y="583" width="1" height="3" fill="#000"/>
</g>
<text x="1.6" y="595.2" textLength="51.8" lengthAdjust="spacingAndGlyphs">19 Mar 2013</text>
<text x="65.6" y="595.2" textLength="51.2" lengthAdjust="spacingAndGlyphs">10 Apr 2013</text>
<text x="130.1" y="595.2" textLength="50.0" lengthAdjust="spacingAndGlyphs">2 May 2013</text>
<text x="193.85" y="595.2" textLength="55.5" lengthAdjust="spacingAndGlyphs">24 May 2013</text>
<text x="257.85" y="595.2" textLength="49.8" lengthAdjust="spacingAndGlyphs">17 Jun 2013</text>
<text x="322.1" y="595.2" textLength="41.8" lengthAdjust="spacingAndGlyphs">9 Jul 2013</text>
<text x="385.85" y="595.2" textLength="47.8" lengthAdjust="spacingAndGlyphs">31 Jul 2013</text>
<text x="450.1" y="595.2" textLength="53.0" lengthAdjust="spacingAndGlyphs">22 Aug 2013</text>
<text x="514.1" y="595.2" textLength="52.2" lengthAdjust="spacingAndGlyphs">13 Sep 2013</text>
<text x="577.85" y="595.2" textLength="46.5" lengthAdjust="spacingAndGlyphs">7 Oct 2013</text>
<text x="642.1" y="595.2" textLength="51.5" lengthAdjust="spacingAndGlyphs">29 Oct 2013</text>
<text x="706.35" y="595.2" textLength="53.5" lengthAdjust="spacingAndGlyphs">20 Nov 2013</text>
</svg>
</body></html>
